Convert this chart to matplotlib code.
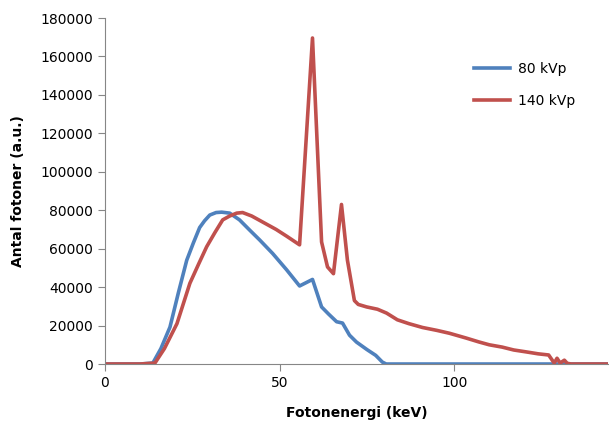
import matplotlib.pyplot as plt

# 80 kVp spectrum
e_80 = [0, 5, 10, 13.7, 16, 18.6, 21, 23.4, 25.3, 27.1, 28.5, 30, 31.8, 33.4, 35.7, 38.5,
        41.4, 44.3, 48, 52, 55.7, 59.4, 62, 64, 66.3, 68, 70, 72, 75, 77.5, 79.4, 80.5, 100, 144]
n_80 = [0, 0, 0, 500, 8000, 19200, 37000, 54000, 63000, 71000, 74500, 77500, 78800, 79000, 78500, 75000,
        69700, 64500, 57500, 49000, 40600, 44000, 29700, 26000, 22000, 21300, 15000, 11400, 7500, 4500, 1000, 0, 0, 0]

# 140 kVp spectrum
e_140 = [0, 5, 10, 14.3, 17, 20.6, 24.3, 26.8, 29.1, 31.5, 33.7, 35.7, 37.7, 39.4, 42, 45,
         49, 52, 55.7, 59.4, 62, 63.7, 65.4, 67.7, 69.4, 71.4, 72.5, 74.9, 78, 80.6, 83.7,
         87, 90.9, 95, 98.6, 103.4, 107, 110, 113.7, 117, 120.6, 124, 127, 128.6, 129.4,
         130.3, 131.5, 132.3, 133.4, 138, 144]
n_140 = [0, 0, 0, 500, 8000, 21000, 42000, 52000, 61000, 68500, 75000, 77000, 78500, 78800, 77000, 74000,
         70000, 66500, 62000, 169600, 63500, 50500, 47000, 83000, 54000, 33000, 31000, 29700, 28500, 26500, 23000,
         21000, 19000, 17500, 16000, 13500, 11500, 10000, 8800, 7300, 6300, 5300, 4700, 500, 3000,
         500, 2000, 400, 0, 0, 0]

fig = plt.figure(figsize=(6.09, 4.26), dpi=100)
ax = fig.add_axes([0.1724, 0.1455, 0.826, 0.8122])

ax.plot(e_80, n_80, color='#4F81BD', lw=2.6, label='80 kVp', solid_joinstyle='round')
ax.plot(e_140, n_140, color='#C0504D', lw=2.6, label='140 kVp', solid_joinstyle='round')

ax.set_xlim(0, 144)
ax.set_ylim(0, 180000)
ax.set_xticks([0, 50, 100])
ax.set_yticks(range(0, 180001, 20000))

for s in ['top', 'right']:
    ax.spines[s].set_visible(False)
for s in ['left', 'bottom']:
    ax.spines[s].set_color('#868686')
ax.tick_params(colors='#868686', labelcolor='black', labelsize=10, length=5, direction='out')

ax.set_xlabel('Fotonenergi (keV)', fontweight='bold', fontsize=10, labelpad=12)
ax.set_ylabel('Antal fotoner (a.u.)', fontweight='bold', fontsize=10, labelpad=11)

ax.legend(loc='upper left', bbox_to_anchor=(0.708, 0.908), frameon=False, fontsize=10,
          handlelength=2.6, labelspacing=1.25, handletextpad=0.6)

fig.savefig('out.png', dpi=100)
